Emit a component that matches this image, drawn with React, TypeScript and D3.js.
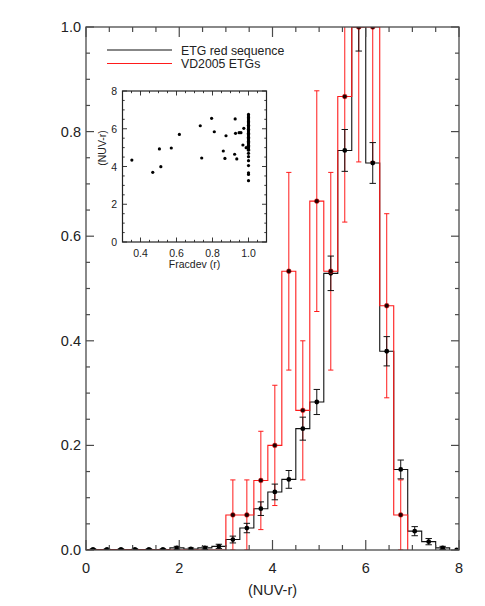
import React from 'react';
import * as d3 from 'd3';

// ---------- data ----------
const binCenters = [0.15, 0.45, 0.75, 1.05, 1.35, 1.65, 1.95, 2.25, 2.55, 2.85, 3.15, 3.45, 3.75, 4.05, 4.35, 4.65, 4.95, 5.25, 5.55, 5.85, 6.15, 6.45, 6.75, 7.05, 7.35, 7.65, 7.95];
const binWidth = 0.3;
const etgValues = [0.001, 0.001, 0.001, 0.001, 0.001, 0.001, 0.004, 0.002, 0.004, 0.007, 0.020, 0.042, 0.079, 0.111, 0.135, 0.232, 0.283, 0.529, 0.764, 1.0, 0.740, 0.380, 0.154, 0.036, 0.016, 0.004, 0.0];
const etgErrors = [0.0015, 0.0015, 0.0015, 0.0015, 0.0015, 0.0015, 0.003, 0.002, 0.003, 0.004, 0.0065, 0.009, 0.013, 0.015, 0.017, 0.022, 0.024, 0.033, 0.040, 0.046, 0.039, 0.028, 0.018, 0.0087, 0.006, 0.003, 0.0];
const vdValues = [0, 0, 0, 0, 0, 0, 0, 0, 0, 0, 0.067, 0.067, 0.133, 0.2, 0.533, 0.267, 0.667, 0.533, 0.867, 1.0, 1.0, 0.467, 0.067, 0, 0, 0, 0];
const vdErrors = [0, 0, 0, 0, 0, 0, 0, 0, 0, 0, 0.067, 0.067, 0.094, 0.115, 0.189, 0.133, 0.211, 0.189, 0.240, 0.258, 0.258, 0.176, 0.067, 0, 0, 0, 0];

const xTicks = [0, 2, 4, 6, 8];
const yTicks = [0, 0.2, 0.4, 0.6, 0.8, 1.0];
const xTickLabels = ['0', '2', '4', '6', '8'];
const yTickLabels = ['0.0', '0.2', '0.4', '0.6', '0.8', '1.0'];

const legendLabels = ['ETG red sequence', 'VD2005 ETGs'];

const fracdev = [0.352, 0.468, 0.505, 0.513, 0.571, 0.616, 0.732, 0.740, 0.795, 0.810, 0.860, 0.869, 0.875, 0.923, 0.926, 0.928, 0.935, 0.948, 0.958, 0.969, 0.974, 0.987,
  1.0, 1.0, 1.0, 1.0, 1.0, 1.0, 1.0, 1.0, 1.0, 1.0, 1.0, 1.0, 1.0, 1.0, 1.0, 1.0, 1.0, 1.0, 1.0, 1.0, 1.0, 1.0, 1.0, 1.0, 1.0, 1.0, 1.0, 1.0, 1.0, 1.0, 1.0, 1.0, 1.0, 1.0, 1.0];
const nuvr = [4.34, 3.69, 4.93, 3.99, 4.98, 5.70, 6.16, 4.45, 6.55, 5.84, 4.82, 4.43, 5.63, 4.65, 6.52, 5.76, 4.40, 5.79, 5.79, 5.14, 6.02, 5.00,
  6.76, 6.68, 6.60, 6.53, 6.46, 6.39, 6.32, 6.25, 6.18, 6.11, 6.04, 5.97, 5.90, 5.83, 5.76, 5.69, 5.62, 5.55, 5.48, 5.41, 5.34, 5.27, 5.20, 5.13, 5.06, 4.99, 4.92, 4.70, 4.52, 4.31, 4.05, 3.67, 3.58, 3.25, 4.86];
const insetXTicks = [0.4, 0.6, 0.8, 1.0];
const insetXTickLabels = ['0.4', '0.6', '0.8', '1.0'];
const insetYTicks = [0, 2, 4, 6, 8];
const insetYTickLabels = ['0', '2', '4', '6', '8'];

// ---------- layout ----------
const W = 485, H = 606;
const L = 86, R = 459, T = 27, B = 550;
const FONT = 'Liberation Sans, Arial, sans-serif';
const AXIS = '#4a4a4a';
const RED = '#ff1a1a';

const x = d3.scaleLinear().domain([0, 8]).range([L, R]);
const y = d3.scaleLinear().domain([0, 1]).range([B, T]);

const ix = d3.scaleLinear().domain([0.3, 1.1]).range([122.5, 266.5]);
const iy = d3.scaleLinear().domain([0, 8]).range([242, 91]);

function stepPoints(values: number[]): [number, number][] {
  let last = values.length - 1;
  while (last > 0 && values[last] === 0) last--;
  const pts: [number, number][] = [];
  for (let i = 0; i <= last; i++) {
    const c = binCenters[i];
    pts.push([c - binWidth / 2, values[i]]);
    pts.push([c + binWidth / 2, values[i]]);
  }
  if (last < values.length - 1) {
    pts.push([binCenters[last] + binWidth / 2, 0]);
  }
  return pts;
}

const line = d3.line<[number, number]>().x(d => x(d[0])).y(d => y(d[1]));

function ErrorBars({ values, errors, color, cap }: { values: number[]; errors: number[]; color: string; cap: number }) {
  return (
    <g stroke={color} strokeWidth={1}>
      {values.map((v, i) => {
        if (v <= 0 || errors[i] <= 0) return null;
        const cx = x(binCenters[i]);
        const lo = y(Math.max(0, v - errors[i]));
        const hi = y(v + errors[i]);
        return (
          <g key={i}>
            <line x1={cx} x2={cx} y1={lo} y2={hi} />
            <line x1={cx - cap} x2={cx + cap} y1={lo} y2={lo} />
            <line x1={cx - cap} x2={cx + cap} y1={hi} y2={hi} />
          </g>
        );
      })}
    </g>
  );
}

export default function App() {
  const xMinor = d3.range(0, 8.001, 0.5);
  const yMinor = d3.range(0, 1.0001, 0.05);
  const ixMinor = d3.range(0.3, 1.1001, 0.05);
  const iyMinor = d3.range(0, 8.001, 0.5);

  return (
    <svg width={W} height={H} style={{ position: 'absolute', left: 0, top: 0, background: '#fff' }} fontFamily={FONT}>
      <defs>
        <clipPath id="plotClip">
          <rect x={L} y={T} width={R - L} height={B - T} />
        </clipPath>
      </defs>

      {/* histograms */}
      <g clipPath="url(#plotClip)" fill="none">
        <path d={line(stepPoints(etgValues)) || ''} stroke="#111" strokeWidth={1.1} />
        <path d={line(stepPoints(vdValues)) || ''} stroke={RED} strokeWidth={1.1} />
        <ErrorBars values={vdValues} errors={vdErrors} color={RED} cap={2.6} />
        <ErrorBars values={etgValues} errors={etgErrors} color="#111" cap={3.2} />
        {etgValues.map((v, i) => (
          <circle key={'e' + i} cx={x(binCenters[i])} cy={y(v)} r={2.4} fill="#000" />
        ))}
        {vdValues.map((v, i) => v > 0 ? (
          <circle key={'v' + i} cx={x(binCenters[i])} cy={y(v)} r={2.4} fill="#200" stroke={RED} strokeWidth={0.5} />
        ) : null)}
      </g>

      {/* frame */}
      <rect x={L} y={T} width={R - L} height={B - T} fill="none" stroke={AXIS} strokeWidth={1.3} />

      {/* ticks */}
      <g stroke={AXIS} strokeWidth={1.2}>
        {xMinor.map((t, i) => {
          const major = xTicks.some(v => Math.abs(v - t) < 1e-6);
          const len = major ? 10 : 5;
          return (
            <g key={i}>
              <line x1={x(t)} x2={x(t)} y1={B} y2={B - len} />
              <line x1={x(t)} x2={x(t)} y1={T} y2={T + len} />
            </g>
          );
        })}
        {yMinor.map((t, i) => {
          const major = yTicks.some(v => Math.abs(v - t) < 1e-6);
          const len = major ? 8 : 4;
          return (
            <g key={i}>
              <line x1={L} x2={L + len} y1={y(t)} y2={y(t)} />
              <line x1={R} x2={R - len} y1={y(t)} y2={y(t)} />
            </g>
          );
        })}
      </g>
      <g fontSize={14.5} fill="#222">
        {xTicks.map((t, i) => (
          <text key={i} x={x(t)} y={573} textAnchor="middle">{xTickLabels[i]}</text>
        ))}
        {yTicks.map((t, i) => (
          <text key={i} x={81} y={y(t) + 5} textAnchor="end">{yTickLabels[i]}</text>
        ))}
        <text x={(L + R) / 2} y={595} textAnchor="middle">(NUV-r)</text>
      </g>

      {/* legend */}
      <g fontSize={12.3} fill="#222">
        <line x1={107} x2={172} y1={50} y2={50} stroke="#111" strokeWidth={1.1} />
        <line x1={107} x2={172} y1={63.5} y2={63.5} stroke={RED} strokeWidth={1.1} />
        <text x={181} y={54.5}>{legendLabels[0]}</text>
        <text x={181} y={68}>{legendLabels[1]}</text>
      </g>

      {/* inset */}
      <g>
        <rect x={ix(0.3)} y={iy(8)} width={ix(1.1) - ix(0.3)} height={iy(0) - iy(8)} fill="#fff" stroke="#222" strokeWidth={1.2} />
        <g stroke="#222" strokeWidth={0.9}>
          {ixMinor.map((t, i) => {
            const major = insetXTicks.some(v => Math.abs(v - t) < 1e-6);
            const len = major ? 4.5 : 2.2;
            return (
              <g key={i}>
                <line x1={ix(t)} x2={ix(t)} y1={iy(0)} y2={iy(0) - len} />
                <line x1={ix(t)} x2={ix(t)} y1={iy(8)} y2={iy(8) + len} />
              </g>
            );
          })}
          {iyMinor.map((t, i) => {
            const major = insetYTicks.some(v => Math.abs(v - t) < 1e-6);
            const len = major ? 4.5 : 2.2;
            return (
              <g key={i}>
                <line x1={ix(0.3)} x2={ix(0.3) + len} y1={iy(t)} y2={iy(t)} />
                <line x1={ix(1.1)} x2={ix(1.1) - len} y1={iy(t)} y2={iy(t)} />
              </g>
            );
          })}
        </g>
        {fracdev.map((f, i) => (
          <circle key={i} cx={ix(f)} cy={iy(nuvr[i])} r={1.6} fill="#000" />
        ))}
        <g fontSize={10.5} fill="#222">
          {insetXTicks.map((t, i) => (
            <text key={i} x={ix(t)} y={256.5} textAnchor="middle">{insetXTickLabels[i]}</text>
          ))}
          {insetYTicks.map((t, i) => (
            <text key={i} x={117} y={iy(t) + 4} textAnchor="end">{insetYTickLabels[i]}</text>
          ))}
          <text x={(ix(0.3) + ix(1.1)) / 2} y={268} textAnchor="middle">Fracdev (r)</text>
          <text transform={`translate(106,148) rotate(-90)`} textAnchor="middle">(NUV-r)</text>
        </g>
      </g>
    </svg>
  );
}
